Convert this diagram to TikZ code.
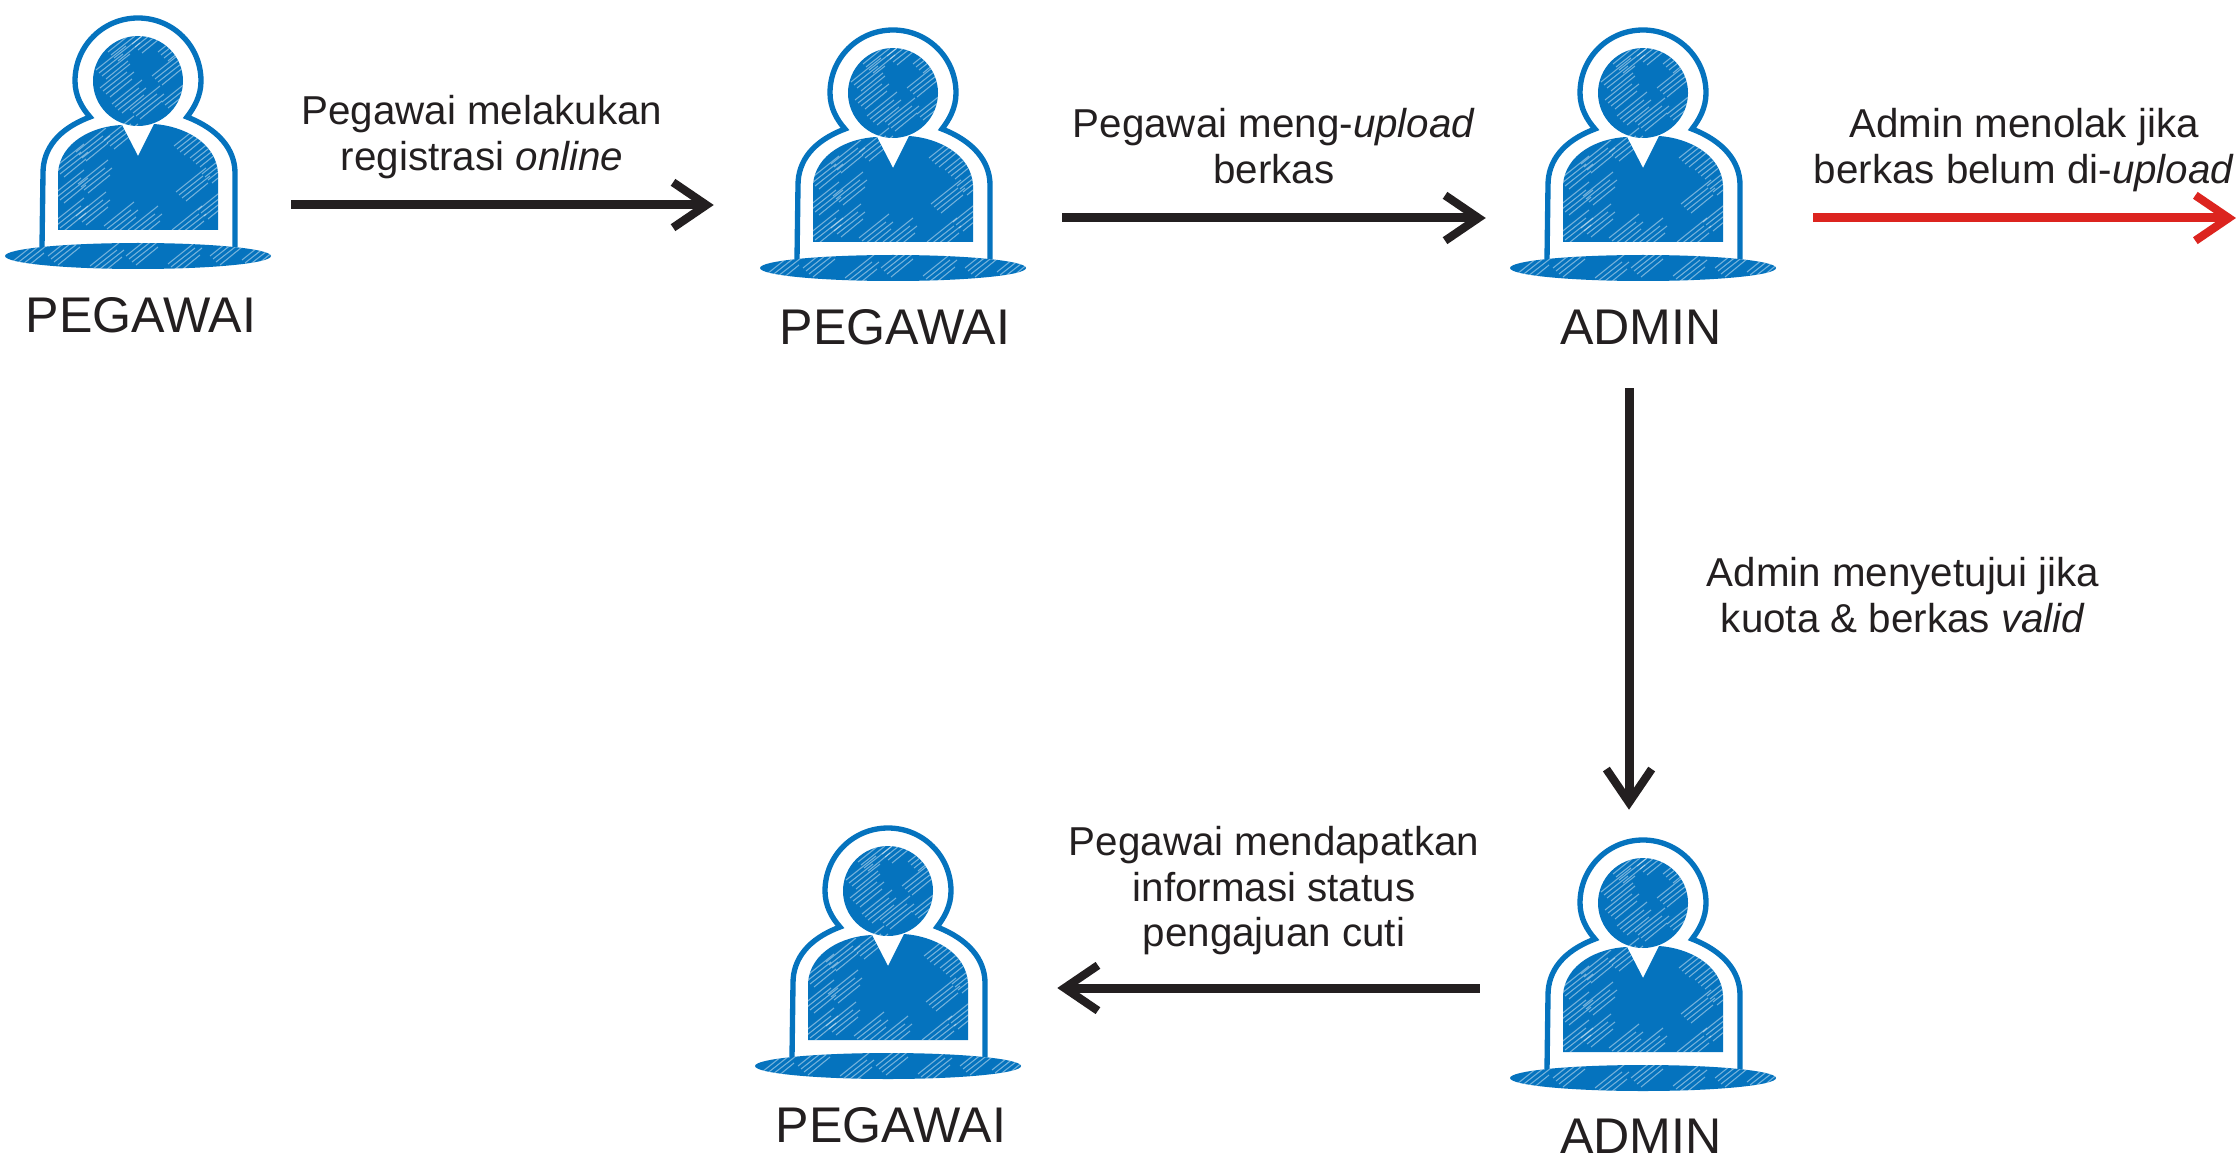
\documentclass[tikz,border=0pt]{standalone}
\usepackage{fontspec}
\setmainfont{Liberation Sans}
\usepackage{xcolor}
\usetikzlibrary{arrows.meta}

\definecolor{iconblue}{HTML}{0573BE}
\definecolor{inkblack}{HTML}{231F20}
\definecolor{rejectred}{HTML}{DC241F}

\tikzset{
    stepline/.style={line width=6.75pt,color=#1,-{Straight Barb[length=25pt,width=34pt,line width=6.2pt]}},
    stepline/.default=inkblack,
    steptext/.style={inner sep=0pt,align=center,text=inkblack,font=\fontsize{30.25}{34.1}\selectfont},
    roletext/.style={inner sep=0pt,text=inkblack,font=\fontsize{37.6}{40}\selectfont},
    person/.pic={
        \begin{scope}[yscale=-1]
        %Base
        \fill [iconblue] (0,112) ellipse [x radius=133,y radius=13];
        %Outline
        \draw [iconblue,line width=4pt] (-96,103) -- (-95,29) .. controls (-95,5) and (-80,-15) .. (-48,-27) .. controls (-56,-36) and (-63,-48) .. (-63,-63) .. controls (-63,-98) and (-35,-126) .. (0,-126) .. controls (35,-126) and (63,-98) .. (63,-63) .. controls (63,-48) and (56,-36) .. (49,-27) .. controls (80,-15) and (97,5) .. (97,29) -- (97,103) ;
        %Head
        \fill [iconblue] (0,-63) circle [radius=45];
        %Body
        \fill [iconblue] (-80,86) -- (-80,29) .. controls (-78,-2) and (-45,-18) .. (-16,-19) -- (0,12) -- (16,-20) .. controls (45,-18) and (78,-2) .. (80,29) -- (80,86) -- cycle ;
        %Scribble streaks
        \begin{scope}
            \clip (0,-63) circle [radius=45] (-80,86) -- (-80,29) .. controls (-78,-2) and (-45,-18) .. (-16,-19) -- (0,12) -- (16,-20) .. controls (45,-18) and (78,-2) .. (80,29) -- (80,86) -- cycle (0,112) ellipse [x radius=133,y radius=13];
            \foreach \sx/\sy in {-42/-74,-30/-92,-6/-100,20/-92,-38/-56,-26/-40,14/-68,-8/-34,24/-42,-84/24,-62/8,-34/-4,36/2,52/14,64/30,-84/50,-60/40,-84/78,-62/72,-34/82,-10/86,38/48,60/66,34/86,-126/118,-90/112,-48/122,-12/112,30/120,72/112,104/116}{
                \draw [white,opacity=.45,line width=.8pt] (\sx,\sy) -- ++(30,-24) (\sx+3,\sy+3) -- ++(24,-19) (\sx+6,\sy+6) -- ++(28,-22) (\sx+10,\sy+9) -- ++(22,-18);
            }
        \end{scope}
        \end{scope}
        \node (box) [minimum width=199.5pt,minimum height=189pt,inner sep=0pt] at (0,0) {};
    }
}

\begin{document}
\begin{tikzpicture}[x=0.75pt,y=0.75pt,yscale=-1,xscale=1]
    \useasboundingbox (0,0) rectangle (2236,1155);

    %Shape: People
    \pic (pegA) at (138,144) {person};
    \pic (pegB) at (893,156) {person};
    \pic (admA) at (1643,156) {person};
    \pic (admB) at (1643,966) {person};
    \pic (pegC) at (888,954) {person};
    \coordinate (rejectEnd) at (2236,218);

    %Straight Lines
    \draw [stepline] ([shift={(20,61)}]pegAbox.east) -- ([shift={(-46,49)}]pegBbox.west) ;
    \draw [stepline] ([shift={(36,62)}]pegBbox.east) -- ([shift={(-24,62)}]admAbox.west) ;
    \draw [stepline=rejectred] ([shift={(37,62)}]admAbox.east) -- (rejectEnd) ;
    \draw [stepline] ([shift={(-14,106)}]admAbox.south) -- ([shift={(-14,-30)}]admBbox.north) ;
    \draw [stepline] ([shift={(-30,22)}]admBbox.west) -- ([shift={(36,34)}]pegCbox.east) ;

    % Text Node
    \draw (141,315) node (rolePegA) [roletext] {PEGAWAI};
    % Text Node
    \draw (895,327) node (rolePegB) [roletext] {PEGAWAI};
    % Text Node
    \draw (1641,327) node (roleAdmA) [roletext] {ADMIN};
    % Text Node
    \draw (1641,1136) node (roleAdmB) [roletext] {ADMIN};
    % Text Node
    \draw (891,1125) node (rolePegC) [roletext] {PEGAWAI};
    % Text Node
    \draw (482,137) node (textRegister) [steptext] {Pegawai melakukan\\registrasi \textit{online}};
    % Text Node
    \draw (1274,146) node (textUpload) [steptext] {Pegawai meng-\textit{upload}\\berkas};
    % Text Node
    \draw (2024,150) node (textReject) [steptext] {Admin menolak jika\\berkas belum di-\textit{upload}};
    % Text Node
    \draw (1903,595) node (textApprove) [steptext] {Admin menyetujui jika\\kuota \& berkas \textit{valid}};
    % Text Node
    \draw (1274,891) node (textInform) [steptext] {Pegawai mendapatkan\\informasi status\\pengajuan cuti};
\end{tikzpicture}
\end{document}
